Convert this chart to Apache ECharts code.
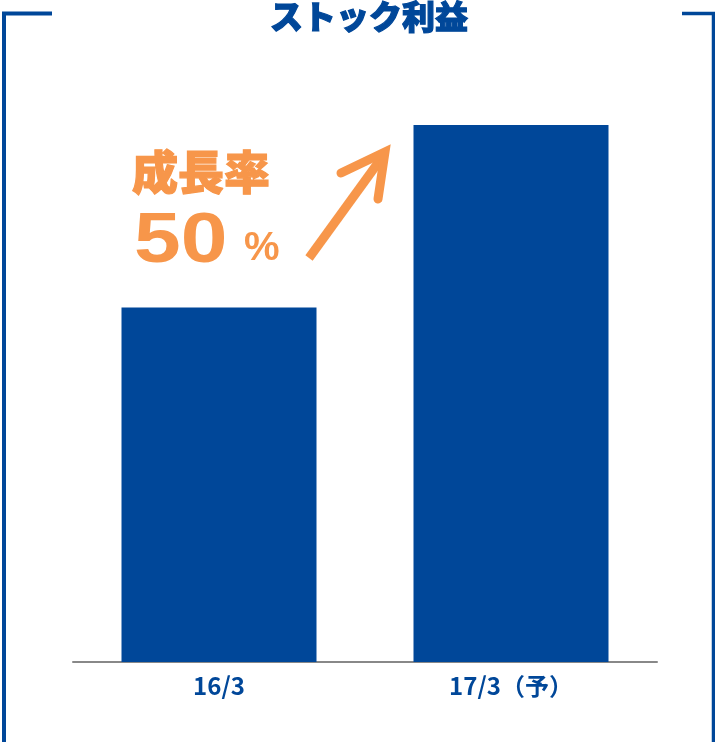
<!DOCTYPE html>
<html>
<head>
<meta charset="utf-8">
<script src="https://cdn.jsdelivr.net/npm/echarts@6/dist/echarts.min.js"></script>
<style>
html,body{margin:0;padding:0;background:#fff;}
#c{width:715px;height:742px;}
</style>
</head>
<body>
<div id="c"></div>
<script>
const titleText = 'ストック利益';
const categories = ['16/3', '17/3（予）'];
const values = [99, 150];
const growthLabel = '成長率';
const growthValue = '50';
const growthUnit = '%';

const BLUE = '#004799';
const ORANGE = '#F7964A';
const JP = '"Noto Sans CJK JP", "Noto Sans", sans-serif';

const chart = echarts.init(document.getElementById('c'), null, {renderer: 'canvas'});
chart.setOption({
  backgroundColor: '#ffffff',
  animation: false,
  title: {
    text: titleText,
    left: 270,
    top: 0,
    padding: 0,
    textStyle: {fontFamily: JP, fontSize: 33, fontWeight: 900, color: BLUE,
                textBorderColor: BLUE, textBorderWidth: 1.2}
  },
  grid: {left: 73, right: 58, top: 125, bottom: 80},
  xAxis: {
    type: 'category',
    data: categories,
    axisLine: {lineStyle: {color: '#888888', width: 2}},
    axisTick: {show: false},
    axisLabel: {margin: 12, fontFamily: JP, fontSize: 24, fontWeight: 'bold', color: BLUE}
  },
  yAxis: {
    type: 'value', min: 0, max: 150, show: false,
    splitLine: {show: false}
  },
  series: [{
    type: 'bar',
    data: values,
    barWidth: 195,
    itemStyle: {color: BLUE}
  }],
  graphic: [
    {type: 'polyline', shape: {points: [[52, 13.5], [4, 13.5], [4, 742]]},
     style: {stroke: BLUE, lineWidth: 4, fill: null}},
    {type: 'polyline', shape: {points: [[682, 13.5], [713.5, 13.5], [713.5, 742]]},
     style: {stroke: BLUE, lineWidth: 3.5, fill: null}},
    {type: 'text', x: 132, y: 172,
     style: {text: growthLabel, font: '900 46px ' + JP, fill: ORANGE, stroke: ORANGE, lineWidth: 1.2,
             textAlign: 'left', textVerticalAlign: 'middle'}},
    {type: 'text', x: 134, y: 243, scaleX: 1.2, originX: 0, originY: 0,
     style: {text: growthValue, font: 'bold 70px "Liberation Sans", Arial, sans-serif', fill: ORANGE, textAlign: 'left', textVerticalAlign: 'middle'}},
    {type: 'text', x: 244, y: 249,
     style: {text: growthUnit, font: 'bold 40px "Liberation Sans", Arial, sans-serif', fill: ORANGE, textAlign: 'left', textVerticalAlign: 'middle'}},
    {type: 'line', shape: {x1: 309, y1: 258, x2: 383, y2: 156},
     style: {stroke: ORANGE, lineWidth: 9, lineCap: 'butt'}},
    {type: 'polyline', shape: {points: [[341, 173], [385, 152], [378, 199]]},
     style: {stroke: ORANGE, lineWidth: 9, fill: null, lineCap: 'round', lineJoin: 'miter', miterLimit: 10}}
  ]
});
</script>
</body>
</html>
